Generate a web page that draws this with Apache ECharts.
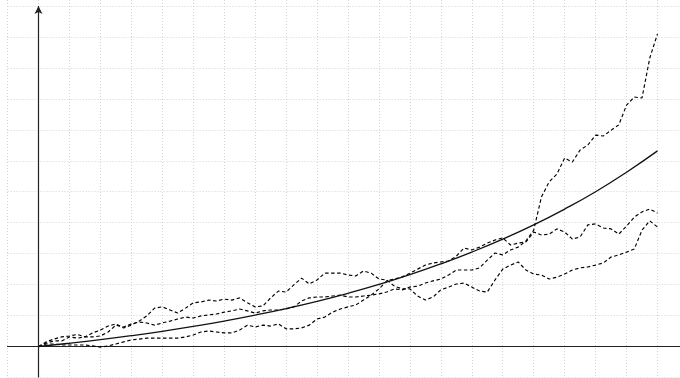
<!DOCTYPE html>
<html>
<head>
<meta charset="utf-8">
<script src="https://cdn.jsdelivr.net/npm/echarts@6/dist/echarts.min.js"></script>
<style>
html,body{margin:0;padding:0;background:#fff;}
#chart{width:680px;height:378px;}
</style>
</head>
<body>
<div id="chart"></div>
<script>
// time steps (x values) shared by the three simulated paths
var steps = [0,0.25,0.5,0.75,1,1.25,1.5,1.75,2,2.25,2.5,2.75,3,3.25,3.5,3.75,4,4.25,4.5,4.75,
  5,5.25,5.5,5.75,6,6.25,6.5,6.75,7,7.25,7.5,7.75,8,8.25,8.5,8.75,9,9.25,9.5,9.75,
  10,10.25,10.5,10.75,11,11.25,11.5,11.75,12,12.25,12.5,12.75,13,13.25,13.5,13.75,14,14.25,14.5,14.75,
  15,15.25,15.5,15.75,16,16.25,16.5,16.75,17,17.25,17.5,17.75,18,18.25,18.5,18.75,19,19.25,19.5,19.75,20];

// path that ends highest
var pathA = [0,0.11,0.18,0.18,0.31,0.27,0.31,0.31,0.34,0.47,0.69,0.63,0.73,0.79,0.76,0.69,0.76,0.82,0.89,0.95,
  0.92,0.99,1.02,1.05,1.11,1.15,1.21,1.15,1.08,1.15,1.18,1.18,1.21,1.28,1.47,1.57,1.60,1.60,1.63,1.66,
  1.60,1.60,1.63,1.66,1.70,1.76,1.86,1.83,1.92,1.95,2.05,2.12,2.18,2.31,2.47,2.47,2.47,2.54,2.79,3.02,
  2.96,3.12,3.21,3.41,3.76,4.83,5.32,5.57,6.09,5.96,6.35,6.51,6.83,6.80,6.99,7.16,7.80,8.06,8.03,9.32,10.10];

// path that ends in the middle
var pathB = [0,0.08,0.08,0.05,0.05,0.05,0.05,0.02,-0.02,0.02,0.08,0.15,0.21,0.24,0.27,0.27,0.27,0.27,0.27,0.31,
  0.37,0.47,0.50,0.47,0.44,0.44,0.53,0.69,0.63,0.69,0.66,0.73,0.57,0.57,0.60,0.69,0.89,0.95,1.11,1.21,
  1.28,1.34,1.50,1.66,1.86,2.12,2.18,2.25,2.37,2.50,2.63,2.70,2.73,2.76,2.92,3.18,3.12,3.21,3.34,3.44,
  3.51,3.28,3.34,3.38,3.70,3.60,3.63,3.80,3.70,3.47,3.54,3.93,3.96,3.83,3.80,3.63,3.89,4.18,4.35,4.44,4.31];

// path that ends lowest
var pathC = [0,0.15,0.24,0.31,0.34,0.39,0.31,0.44,0.53,0.66,0.73,0.60,0.69,0.82,0.99,1.24,1.28,1.18,1.08,1.24,
  1.41,1.44,1.50,1.47,1.53,1.50,1.57,1.41,1.28,1.31,1.57,1.79,1.76,1.99,2.21,2.02,2.15,2.37,2.37,2.37,
  2.31,2.28,2.44,2.37,2.18,2.15,1.95,1.86,1.86,1.63,1.50,1.60,1.83,1.92,2.02,2.05,1.92,1.79,1.76,2.15,
  2.50,2.63,2.73,2.47,2.34,2.31,2.18,2.24,2.34,2.47,2.54,2.57,2.63,2.70,2.89,2.96,3.05,3.15,3.76,4.06,3.86];

// expected (mean) curve
var meanX = [0,1,2,3,4,5,6,7,8,9,10,11,12,13,14,15,16,17,18,19,20];
var meanY = [0,0.105,0.221,0.350,0.492,0.649,0.822,1.014,1.226,1.460,1.718,2.004,2.320,2.669,3.050,3.470,3.930,4.440,5.000,5.630,6.320];

function zip(xs, ys){ var out=[]; for (var i=0;i<ys.length;i++) out.push([xs[i], ys[i]]); return out; }

var chart = echarts.init(document.getElementById('chart'), null, {renderer:'canvas'});
var dashStyle = {color:'#000', width:1.15, type:[3.5,2.5]};
var gridLine = {show:true, showMinLine:true, showMaxLine:false, lineStyle:{color:'#d4d4d4', width:1, type:[1,2]}};
chart.setOption({
  animation:false,
  backgroundColor:'#ffffff',
  grid:{left:7.55, right:0, top:0, bottom:0.55, containLabel:false},
  xAxis:{type:'value', min:-1, max:20.727, interval:1,
    axisLine:{show:true, onZero:true, lineStyle:{color:'#222', width:1.2}},
    axisTick:{show:false}, axisLabel:{show:false},
    splitLine:gridLine},
  yAxis:{type:'value', min:-1, max:11.195, interval:1,
    axisLine:{show:false}, axisTick:{show:false}, axisLabel:{show:false},
    splitLine:gridLine},
  series:[
    {type:'line', data:zip(steps, pathA), showSymbol:false, lineStyle:dashStyle, silent:true,
     markLine:{silent:true, symbol:['none','arrow'], symbolSize:[6,8], label:{show:false},
       lineStyle:{color:'#222', width:1.2, type:'solid'},
       data:[[{coord:[0,-1]},{coord:[0,11]}]]}},
    {type:'line', data:zip(steps, pathB), showSymbol:false, lineStyle:dashStyle, silent:true},
    {type:'line', data:zip(steps, pathC), showSymbol:false, lineStyle:dashStyle, silent:true},
    {type:'line', data:zip(meanX, meanY), smooth:true, showSymbol:false, silent:true,
     lineStyle:{color:'#111', width:1.3, type:'solid'}}
  ]
});
</script>
</body>
</html>
